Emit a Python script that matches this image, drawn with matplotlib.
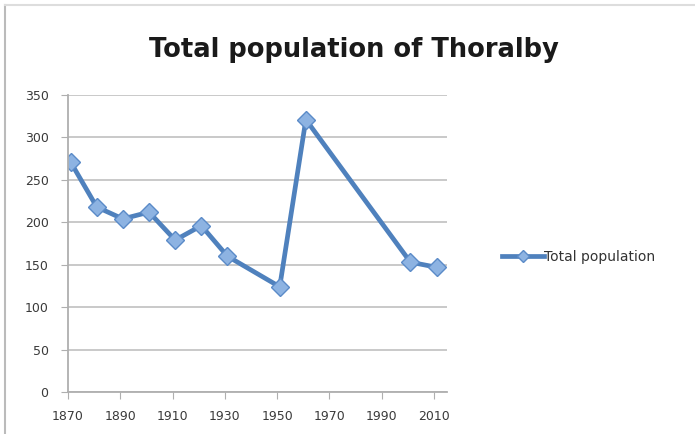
import matplotlib
matplotlib.use("Agg")
import matplotlib.pyplot as plt

years = [1871, 1881, 1891, 1901, 1911, 1921, 1931, 1951, 1961, 2001, 2011]
population = [271, 218, 204, 212, 179, 196, 160, 124, 321, 153, 147]
xticks = [1870, 1890, 1910, 1930, 1950, 1970, 1990, 2010]
yticks = [0, 50, 100, 150, 200, 250, 300, 350]
series_name = "Total population"
title = "Total population of Thoralby"

fig = plt.figure(figsize=(6.95, 4.34), dpi=100)
fig.patch.set_facecolor("white")
ax = fig.add_axes([68/695, 1 - 392/434, (447-68)/695, (392-95)/434])

line_col = "#4F81BD"
ax.plot(years, population, color=line_col, lw=3.4, marker="D", ms=9,
        markerfacecolor="#8DB3E2", markeredgecolor="#5B8BC8", markeredgewidth=1.0,
        label=series_name, solid_joinstyle="round")

ax.set_xlim(1870, 2015)
ax.set_ylim(0, 350)
ax.set_xticks(xticks)
ax.set_yticks(yticks)
ax.grid(axis="y", color="#C0C0C0", lw=1.2)
ax.set_axisbelow(True)
for s in ["top", "right"]:
    ax.spines[s].set_visible(False)
for s in ["left", "bottom"]:
    ax.spines[s].set_color("#AFAFAF")
    ax.spines[s].set_linewidth(1.3)
ax.tick_params(axis="x", direction="out", length=5, color="#AFAFAF", labelsize=9,
               labelcolor="#3a3a3a", pad=8)
ax.tick_params(axis="y", direction="out", length=5, color="#AFAFAF", labelsize=9,
               labelcolor="#3a3a3a", pad=9)

fig.text(354/695, 1 - 50/434, title, ha="center", va="center", fontsize=18.5,
         fontweight="bold", family="DejaVu Sans", color="#1a1a1a")

leg = fig.legend(loc="center left", bbox_to_anchor=(490/695, 1 - 257/434), frameon=False,
                 fontsize=10, handlelength=3.0, handletextpad=0.0, labelcolor="#333333")
for h in leg.legend_handles:
    h.set_markersize(6)

# outer frame
fig.add_artist(plt.Line2D([5/695, 5/695], [0, 1 - 5/434], transform=fig.transFigure, color="#BBBBBB", lw=1.5))
fig.add_artist(plt.Line2D([5/695, 1], [1 - 5/434, 1 - 5/434], transform=fig.transFigure, color="#DDDDDD", lw=1.5))

fig.savefig("out.png", dpi=100)
